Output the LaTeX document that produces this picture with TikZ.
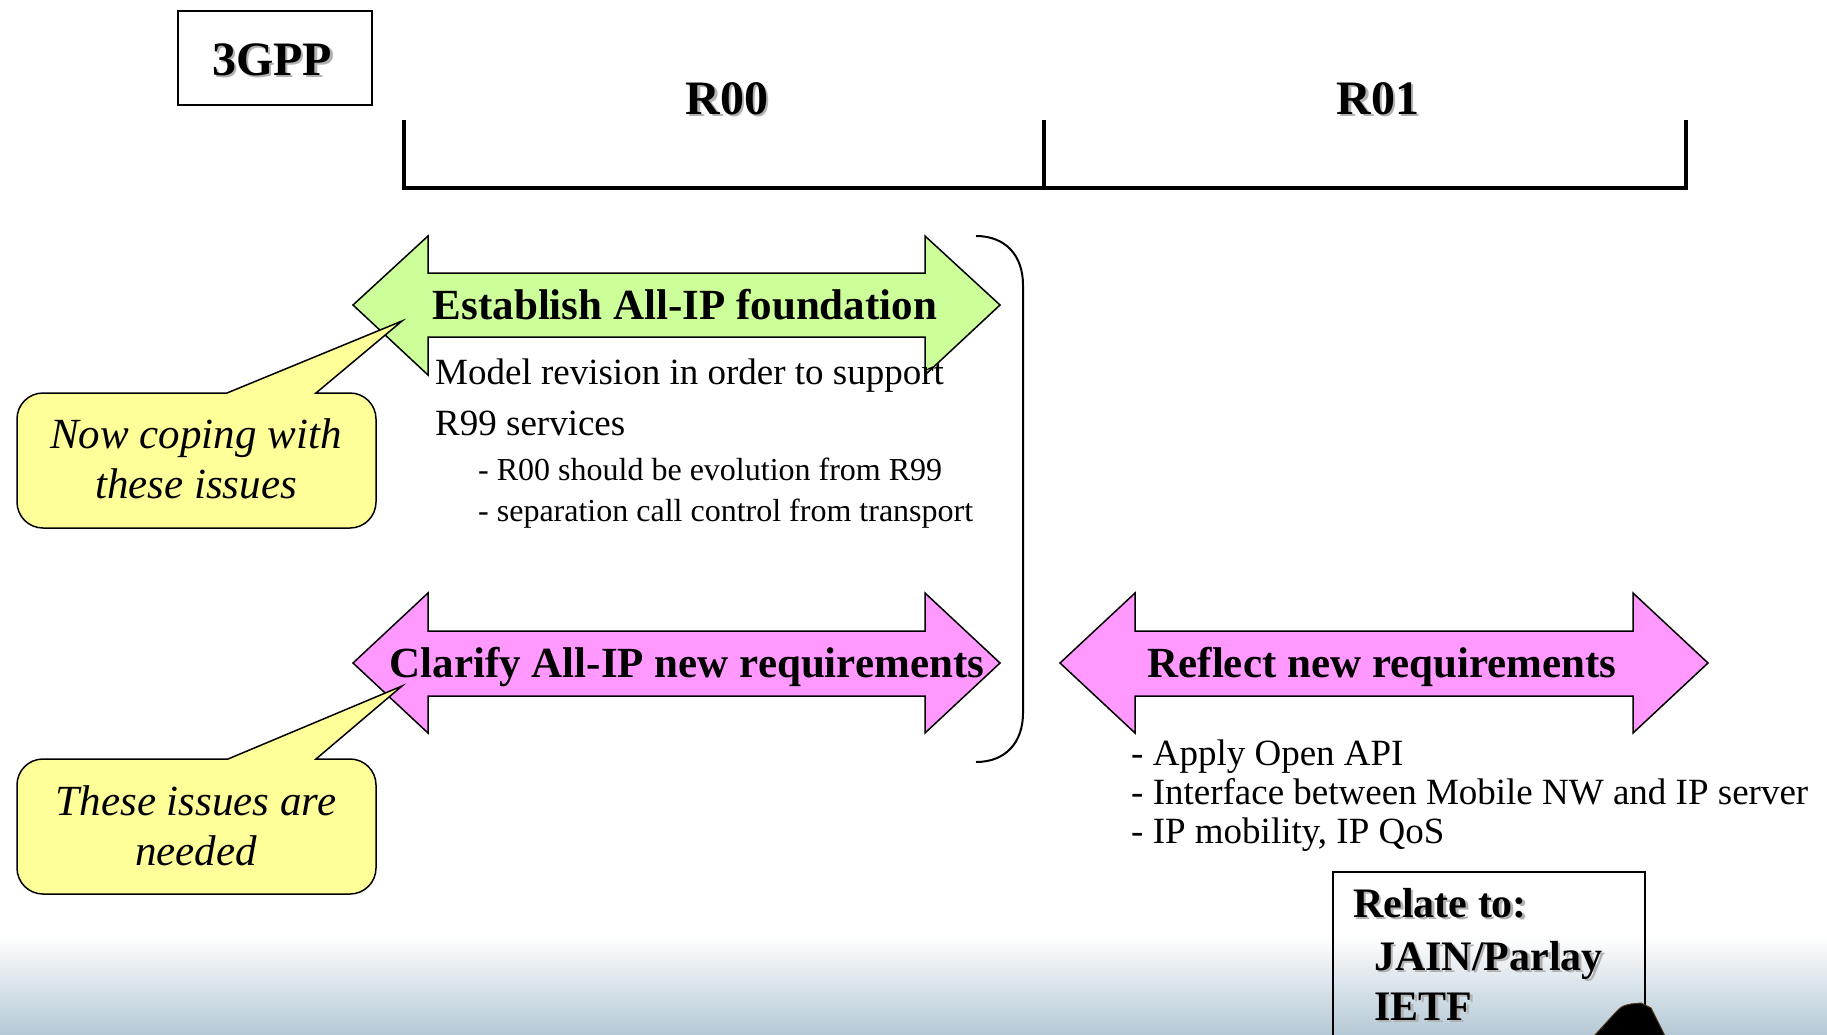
\documentclass[tikz,border=0pt]{standalone}
\usepackage{fontspec}
\setmainfont{Liberation Serif}
\definecolor{arrowgreen}{HTML}{CCFF99}
\definecolor{arrowpink}{HTML}{FF99FF}
\definecolor{noteyellow}{HTML}{FFFF99}
\definecolor{floorblue}{HTML}{B5C9D6}
\definecolor{floormid}{HTML}{E9EFF3}
% bold heading with a soft grey drop shadow
\newcommand\shadowed[1]{\leavevmode\rlap{\kern2.5pt\raisebox{-2.5pt}{\textcolor{black!30}{#1}}}#1}
\begin{document}
\begin{tikzpicture}[x=1pt, y=-1pt,
  heading/.style={font=\fontsize{48}{57}\selectfont\bfseries, inner sep=0pt, anchor=base},
  band/.style={draw=black, line width=1.5pt, line join=miter},
  bandlabel/.style={font=\fontsize{43}{51}\selectfont\bfseries, inner sep=0pt, anchor=base},
  bodytext/.style={font=\fontsize{37}{45}\selectfont, inner sep=0pt, anchor=base west},
  subtext/.style={font=\fontsize{32}{40}\selectfont, inner sep=0pt, anchor=base west},
  notetext/.style={font=\fontsize{43}{51}\selectfont\itshape, inner sep=0pt, anchor=base},
  reltext/.style={font=\fontsize{42}{50}\selectfont\bfseries, inner sep=0pt, anchor=base west},
  callout/.style={draw=black, line width=1.5pt, fill=noteyellow, line join=miter},
  axis/.style={line width=3.5pt}
]
\useasboundingbox (0,0) rectangle (1827,1034);
\fill[white] (0,0) rectangle (1827,1034);
% floor gradient
\shade[top color=white, middle color=floormid, bottom color=floorblue] (0,935) rectangle (1827,1034);

% 3GPP label box
\draw[line width=1.5pt] (178,11) rectangle (372,105);
\node[heading] (tgpp) at (272,75) {\shadowed{3GPP}};

% release time line
\coordinate (t0) at (404,188);
\coordinate (t1) at (1044,188);
\coordinate (t2) at (1686,188);
\draw[axis] (404,120) -- (t0) -- (t2) -- (1686,120);
\draw[axis] (1044,120) -- (t1);
\node[heading] (r00) at (727,114) {\shadowed{R00}};
\node[heading] (r01) at (1378,114) {\shadowed{R01}};

% double-headed bands
\draw[band, fill=arrowgreen] (353,305) -- (428,236) -- (428,273) -- (925,273) -- (925,236) -- (1000,305)
  -- (925,375) -- (925,337) -- (428,337) -- (428,375) -- cycle;
\node[bandlabel] (found) at (685,319) {Establish All-IP foundation};

\draw[band, fill=arrowpink] (353,663) -- (428,593) -- (428,631) -- (925,631) -- (925,593) -- (1000,663)
  -- (925,733) -- (925,696) -- (428,696) -- (428,733) -- cycle;
\node[bandlabel] (clarify) at (687,677) {Clarify All-IP new requirements};

\draw[band, fill=arrowpink] (1060,663) -- (1135,593) -- (1135,631) -- (1633,631) -- (1633,593) -- (1708,663)
  -- (1633,733) -- (1633,696) -- (1135,696) -- (1135,733) -- cycle;
\node[bandlabel] (reflect) at (1382,677) {Reflect new requirements};

% R00 scope bracket
\draw[line width=2pt] (976,236) .. controls (1006,236) and (1023,256) .. (1023,285) -- (1023,713)
  .. controls (1023,742) and (1006,762) .. (976,762);

% R00 notes
\node[bodytext] (model) at (435,384) {Model revision in order to support};
\node[bodytext] (r99) at (435,435) {R99 services};
\node[subtext] (evol) at (478,480) {- R00 should be evolution from R99};
\node[subtext] (sep) at (478,521) {- separation call control from transport};

% R01 notes
\node[bodytext] (api) at (1131,765) {- Apply Open API};
\node[bodytext] (iface) at (1131,804) {- Interface between Mobile NW and IP server};
\node[bodytext] (mob) at (1131,843) {- IP mobility, IP QoS};

% callouts
\draw[callout] (17,460) [rounded corners=26pt] -- (17,393) -- (200,393) [sharp corners] -- (227,393)
  -- (402,321) -- (316,393) -- (340,393) [rounded corners=26pt] -- (376,393) -- (376,528) -- (17,528) -- cycle;
\node[notetext] (now1) at (196,448) {Now coping with};
\node[notetext] (now2) at (196,498) {these issues};

\draw[callout] (17,826) [rounded corners=26pt] -- (17,759) -- (200,759) [sharp corners] -- (228,759)
  -- (402,686) -- (316,759) -- (340,759) [rounded corners=26pt] -- (376,759) -- (376,894) -- (17,894) -- cycle;
\node[notetext] (need1) at (196,815) {These issues are};
\node[notetext] (need2) at (196,865) {needed};

% related bodies
\draw[line width=1.5pt] (1333,1040) -- (1333,872) -- (1645,872) -- (1645,1040);
\node[reltext] (rel) at (1353,917) {\shadowed{Relate to:}};
\node[reltext] (jain) at (1374,970) {\shadowed{JAIN/Parlay}};
\node[reltext] (ietf) at (1374,1020) {\shadowed{IETF}};

% dark figure at the lower edge
\fill[black, draw=brown!40!black, line width=1pt] (1594,1036) -- (1616,1012)
  .. controls (1622,1006) .. (1631,1004) -- (1641,1003) -- (1651,1008) -- (1665,1036) -- cycle;
\end{tikzpicture}
\end{document}
